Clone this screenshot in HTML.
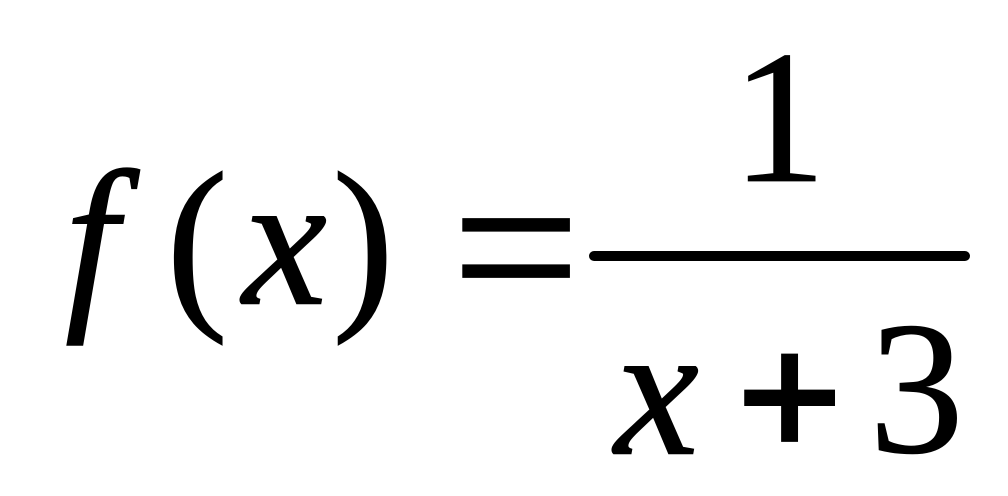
<!DOCTYPE html>
<html><head><meta charset="utf-8"><style>html,body{margin:0;padding:0;background:#fff;width:1008px;height:496px;overflow:hidden}svg{display:block}text{font-family:"Liberation Serif",serif;fill:#000}</style></head>
<body>
<svg width="1008" height="496" viewBox="0 0 1008 496" xmlns="http://www.w3.org/2000/svg">
<rect width="1008" height="496" fill="#fff"/>
<text font-size="200" font-style="italic" stroke="#000" stroke-width="1.5" transform="translate(65 304) scale(.95 .965)">f</text>
<text font-size="200" stroke="#000" stroke-width="1.5" transform="translate(166.5 304) scale(.92 .955)">(</text>
<text font-size="200" font-style="italic" stroke="#000" stroke-width="1.5" transform="translate(242.5 303.5) scale(.95 .945)">x</text>
<text font-size="200" stroke="#000" stroke-width="1.5" transform="translate(332.5 304) scale(.92 .955)">)</text>
<text font-size="170" stroke="#000" stroke-width="1.5" transform="translate(452 324.75) scale(1.335 1.36)">=</text>
<rect x="589" y="251" width="381" height="10" rx="5" fill="#000"/>
<text x="731.5" y="181" font-size="190" stroke="#000" stroke-width=".8">1</text>
<text font-size="200" font-style="italic" stroke="#000" stroke-width="1.5" transform="translate(614.5 453.5) scale(.95 .945)">x</text>
<text font-size="170" font-weight="bold" stroke="#000" stroke-width="3.5" transform="translate(736.3 458) scale(1.1 1.067)">+</text>
<text x="869" y="452" font-size="190" stroke="#000" stroke-width=".8">3</text>
</svg>
</body></html>
